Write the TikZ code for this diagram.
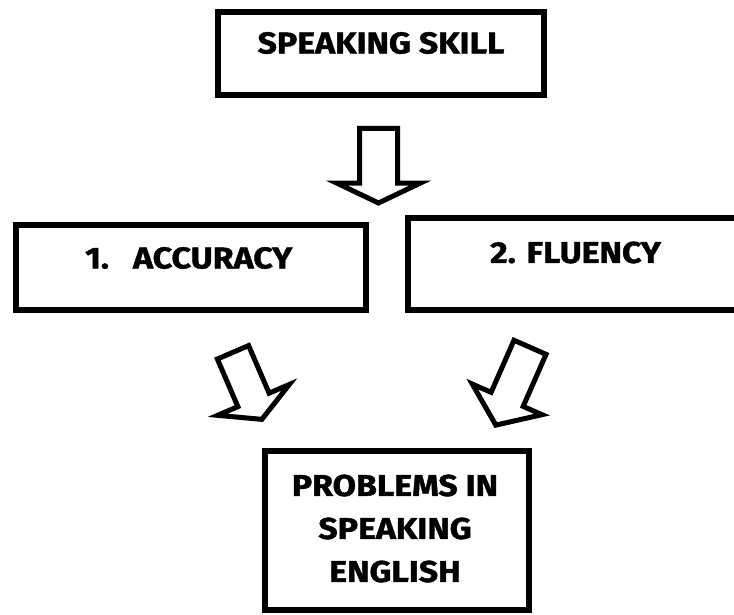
\documentclass[tikz,border=0pt]{standalone}
\usepackage{fontspec}
\setmainfont{Fira Sans}[BoldFeatures={FakeBold=1.4, FakeStretch=1.13}]
\usetikzlibrary{positioning}
\usetikzlibrary{shapes,arrows}
\tikzstyle{box} = [rectangle, draw, line width=6pt, inner sep=0pt]
\tikzstyle{txt} = [inner sep=0pt, align=center,
                font=\fontsize{30}{43}\selectfont\bfseries]
\tikzstyle{hollow} = [single arrow, draw, line width=5pt, fill=white,
                text height=0pt, text depth=0pt, inner xsep=0pt, outer sep=0pt, anchor=tail]

\begin{document}
\begin{tikzpicture}[x=1pt, y=-1pt]
                \clip (0,0) rectangle (734,615);
                \node[box, minimum width=326pt, minimum height=83pt](skill) at (381,53.5){};
                \node[txt](skilltxt) at (381,43){SPEAKING SKILL};
                \node[hollow, rotate=-90, minimum height=74.5pt, inner ysep=16.5pt,
                    single arrow head extend=22.5pt, single arrow tip angle=129](down) at (378.5,128.5){};
                \node[box, minimum width=350pt, minimum height=85pt](accuracy) at (191,267.5){};
                \node[txt, anchor=west](accutxt) at (85,258){1.\hspace{24pt}ACCURACY};
                \node[box, minimum width=372pt, minimum height=92pt](fluency) at (594,264){};
                \node[txt, anchor=west](flutxt) at (490,252.5){2. FLUENCY};
                \node[hollow, rotate=-66.7, minimum height=73pt, inner ysep=14.5pt,
                    single arrow head extend=22pt, single arrow tip angle=123](leftdown) at (233,352.3){};
                \node[hollow, rotate=-113.7, minimum height=85pt, inner ysep=15pt,
                    single arrow head extend=20.5pt, single arrow tip angle=107](rightdown) at (530,347.3){};
                \node[box, minimum width=264pt, minimum height=159pt](problems) at (397,530.5){};
                \node[txt](probtxt) at (395,528.5){PROBLEMS IN\\ SPEAKING\\ ENGLISH};
            \end{tikzpicture}
\end{document}
